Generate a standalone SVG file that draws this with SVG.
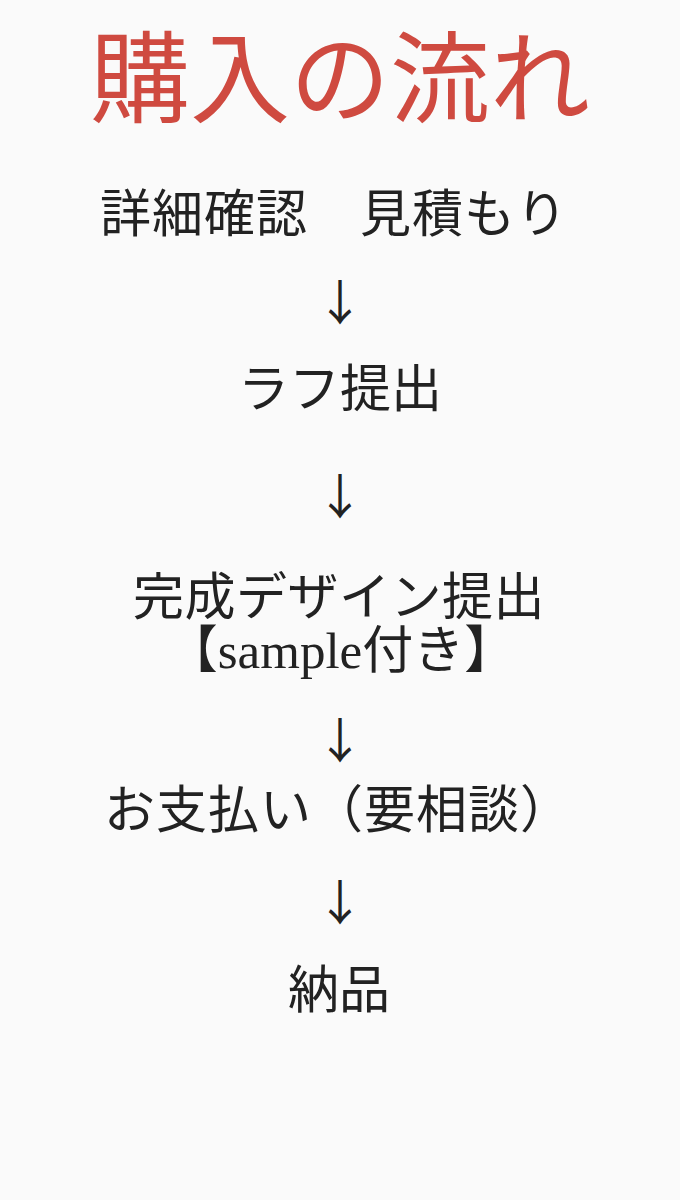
<svg xmlns="http://www.w3.org/2000/svg" width="680" height="1200" viewBox="0 0 680 1200">
<style>
.t{font-family:"Liberation Serif","Noto Sans CJK JP",serif;fill:#222;font-size:51px;text-anchor:middle}
.ttl{font-family:"Liberation Serif","Noto Sans CJK JP",serif;fill:#cf4a40;font-size:100px;text-anchor:middle}
.a{font-family:"Noto Sans CJK JP",sans-serif;fill:#222;font-size:48px;text-anchor:middle}
</style>
<rect width="680" height="1200" fill="#fafafa"/>
<g id="title"><text class="ttl" x="340" y="115">購入の流れ</text></g>
<g id="step1"><text class="t" x="334" y="232" letter-spacing="1">詳細確認　見積もり</text></g>
<g id="step2"><text class="t" x="340" y="407">ラフ提出</text></g>
<g id="step3"><text class="t" x="339" y="615" letter-spacing="0.5">完成デザイン提出</text><text class="t" x="341" y="668">【sample付き】</text></g>
<g id="step4"><text class="t" x="338" y="828" letter-spacing="1">お支払い（要相談）</text></g>
<g id="step5"><text class="t" x="339" y="1008">納品</text></g>
<g id="connectors">
<text class="a" x="340" y="320">↓</text>
<text class="a" x="340" y="514">↓</text>
<text class="a" x="340" y="758">↓</text>
<text class="a" x="340" y="920">↓</text>
</g>
</svg>
